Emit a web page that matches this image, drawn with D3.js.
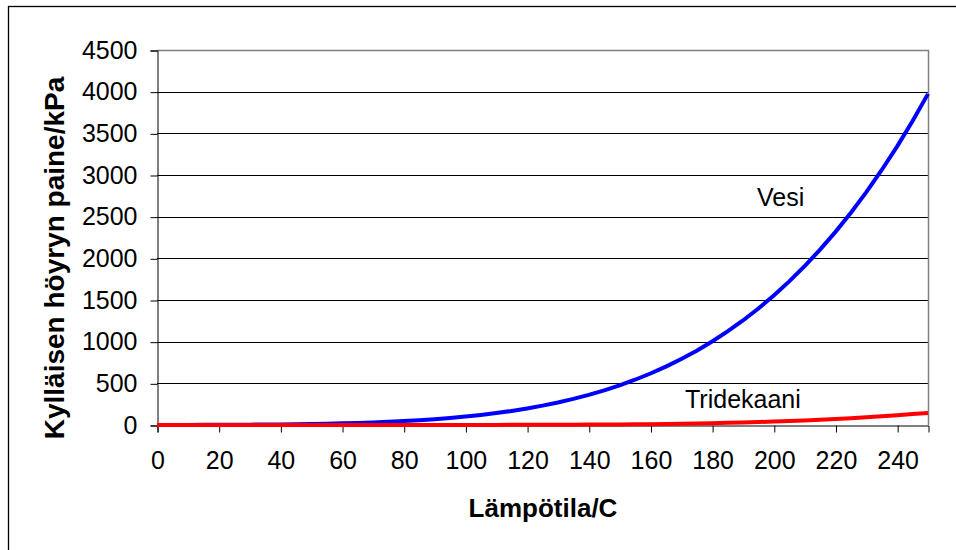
<!DOCTYPE html>
<html>
<head>
<meta charset="utf-8">
<script src="https://cdn.jsdelivr.net/npm/d3@7"></script>
<style>
  html, body { margin: 0; padding: 0; background: #fff; }
  svg { display: block; font-family: "Liberation Sans", Arial, sans-serif; }
</style>
</head>
<body>
<svg id="chart" width="956" height="550"></svg>
<script>
// Temperatures (°C) at which the vapour pressures are tabulated
const temperatures = [0, 5, 10, 15, 20, 25, 30, 35, 40, 45, 50, 55, 60, 65, 70, 75, 80, 85, 90, 95,
  100, 105, 110, 115, 120, 125, 130, 135, 140, 145, 150, 155, 160, 165, 170, 175, 180, 185, 190, 195,
  200, 205, 210, 215, 220, 225, 230, 235, 240, 245, 250];

// Saturated vapour pressure of water (kPa)
const vesi = [0.6, 0.9, 1.2, 1.7, 2.3, 3.2, 4.2, 5.6, 7.4, 9.6, 12.3, 15.8, 19.9, 25.0, 31.2, 38.6,
  47.4, 57.8, 70.1, 84.6, 101.3, 120.8, 143.3, 169.1, 198.5, 232.1, 270.1, 313.0, 361.3, 415.4,
  475.8, 543.1, 617.8, 700.5, 791.7, 892.0, 1002.2, 1122.7, 1254.4, 1397.8, 1553.8, 1723.0, 1906.3,
  2104.2, 2317.8, 2547.9, 2795.1, 3060.1, 3344.2, 3648.2, 3973.6];

// Saturated vapour pressure of tridecane (kPa)
const tridekaani = [0, 0, 0, 0, 0, 0, 0, 0.01, 0.01, 0.02, 0.03, 0.04, 0.06, 0.09, 0.13, 0.18,
  0.25, 0.35, 0.48, 0.65, 0.87, 1.1, 1.4, 1.8, 2.3, 2.9, 3.6, 4.4, 5.3, 6.2, 7.0, 8.5, 10.0,
  12.5, 15.0, 18.0, 22.0, 26.0, 31.0, 36.0, 42.0, 48.0, 55.0, 63.0, 72.0, 82.0, 93.0, 105.0,
  118.0, 131.0, 145.0];

const xTicks = [0, 20, 40, 60, 80, 100, 120, 140, 160, 180, 200, 220, 240];
const yTicks = [0, 500, 1000, 1500, 2000, 2500, 3000, 3500, 4000, 4500];

const xTitle = "Lämpötila/C";
const yTitle = "Kylläisen höyryn paine/kPa";
const seriesLabels = ["Vesi", "Tridekaani"];

const svg = d3.select("#chart");

// Outer chart-area frame
svg.append("rect")
  .attr("x", 8.5).attr("y", 6.5)
  .attr("width", 1000).attr("height", 600)
  .attr("fill", "none").attr("stroke", "#000").attr("stroke-width", 1.3);

const plot = { left: 157, right: 928, top: 50, bottom: 425 };

const x = d3.scaleLinear().domain([0, 250]).range([plot.left, plot.right]);
const y = d3.scaleLinear().domain([0, 4500]).range([plot.bottom, plot.top]);

// Horizontal gridlines
svg.append("g")
  .selectAll("line")
  .data(yTicks.filter(v => v > 0 && v < 4500))
  .join("line")
  .attr("x1", plot.left).attr("x2", plot.right)
  .attr("y1", d => Math.round(y(d)) + 0.5).attr("y2", d => Math.round(y(d)) + 0.5)
  .attr("stroke", "#000").attr("stroke-width", 1);

// Plot area border (top and right, grey)
svg.append("path")
  .attr("d", `M${plot.left},${plot.top + 0.5}H${plot.right + 0.5}V${plot.bottom}`)
  .attr("fill", "none").attr("stroke", "#808080").attr("stroke-width", 1.5);

// Y axis
const yAxis = svg.append("g")
  .attr("transform", `translate(${plot.left + 0.5},0.5)`)
  .call(d3.axisLeft(y).tickValues(yTicks).tickSize(7).tickPadding(13).tickFormat(d3.format("d")));
yAxis.select(".domain").attr("stroke", "#000");
yAxis.selectAll(".tick line").attr("stroke", "#000");
yAxis.selectAll(".tick text")
  .attr("font-size", 25).attr("fill", "#000")
  .attr("font-family", "'Liberation Sans', Arial, sans-serif")
  .attr("dy", "0.3em");

// X axis
const xAxis = svg.append("g")
  .attr("transform", `translate(0.5,${plot.bottom + 0.5})`)
  .call(d3.axisBottom(x).tickValues(xTicks).tickSize(7).tickPadding(19).tickFormat(d3.format("d")));
xAxis.select(".domain").attr("stroke", "#000");
xAxis.selectAll(".tick line").attr("stroke", "#000");
xAxis.selectAll(".tick text")
  .attr("font-size", 25).attr("fill", "#000")
  .attr("font-family", "'Liberation Sans', Arial, sans-serif");

// Series lines (tridecane drawn on top of water)
const line = vals => d3.line()
  .x((d, i) => x(temperatures[i]))
  .y(d => y(d))(vals);

svg.append("path")
  .attr("d", line(vesi))
  .attr("fill", "none").attr("stroke", "#0000ff").attr("stroke-width", 4);

svg.append("path")
  .attr("d", line(tridekaani))
  .attr("fill", "none").attr("stroke", "#ff0000").attr("stroke-width", 4);

// Series annotations
svg.append("text")
  .attr("x", 757).attr("y", 206)
  .attr("font-size", 25).attr("fill", "#000")
  .text(seriesLabels[0]);

svg.append("text")
  .attr("x", 685).attr("y", 408)
  .attr("font-size", 25).attr("fill", "#000")
  .text(seriesLabels[1]);

// Axis titles
svg.append("text")
  .attr("x", 543).attr("y", 517)
  .attr("text-anchor", "middle")
  .attr("font-size", 26).attr("font-weight", "bold").attr("fill", "#000")
  .text(xTitle);

svg.append("text")
  .attr("transform", "translate(64,258) rotate(-90)")
  .attr("text-anchor", "middle")
  .attr("font-size", 28).attr("font-weight", "bold").attr("fill", "#000")
  .text(yTitle);
</script>
</body>
</html>
